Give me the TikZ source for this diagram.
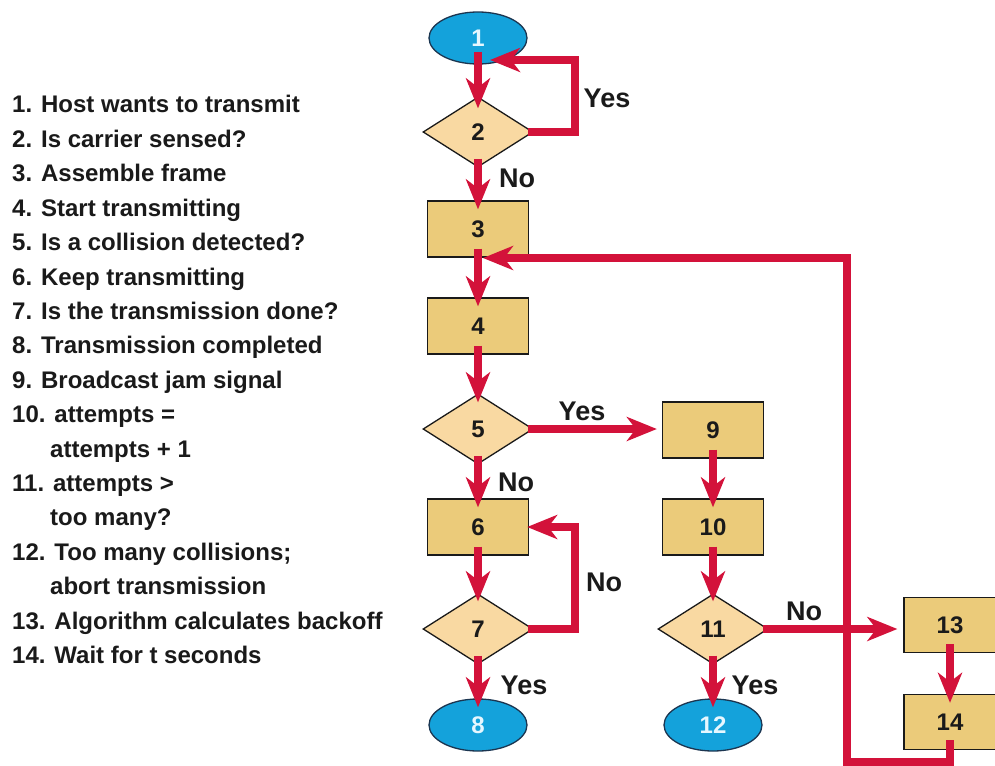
\documentclass[tikz,border=0pt]{standalone}
\usepackage{fontspec}
\setmainfont{Liberation Sans}
\usetikzlibrary{shapes.geometric,arrows.meta}
\definecolor{flowred}{HTML}{D3123A}
\definecolor{boxtan}{HTML}{EBCB7A}
\definecolor{decpeach}{HTML}{F9D9A2}
\definecolor{termblue}{HTML}{14A2DB}
\definecolor{termedge}{HTML}{1B3550}
\definecolor{termtext}{HTML}{E6F7FF}
\definecolor{inkdark}{HTML}{1A1A1A}
\begin{document}
\begin{tikzpicture}[x=1pt,y=-1pt,
  every node/.style={font=\fontsize{24}{28}\selectfont\bfseries, text=inkdark},
  procbox/.style={draw=inkdark, line width=1.3pt, fill=boxtan,
    minimum width=101pt, minimum height=56pt, inner sep=0pt},
  decision/.style={diamond, draw=inkdark, line width=1.3pt, fill=decpeach,
    minimum width=110pt, minimum height=70pt, inner sep=0pt, aspect=1.57},
  terminal/.style={ellipse, draw=termedge, line width=1.3pt, fill=termblue,
    minimum width=98pt, minimum height=52pt, inner sep=0pt, text=termtext},
  flow/.style={draw=flowred, line width=8pt,
    -{Stealth[length=30pt,width=24pt,inset=9pt]}, shorten <=-9pt},
  branch/.style={inner sep=0pt, font=\fontsize{27}{30}\selectfont\bfseries},
  itemtext/.style={anchor=base west, inner sep=0pt}
]
\useasboundingbox[fill=white] (0,0) rectangle (995,765);

% legend of the numbered steps
\foreach \xx/\txt [count=\i from 0] in {
  12/{1. Host wants to transmit},
  12/{2. Is carrier sensed?},
  12/{3. Assemble frame},
  12/{4. Start transmitting},
  12/{5. Is a collision detected?},
  12/{6. Keep transmitting},
  12/{7. Is the transmission done?},
  12/{8. Transmission completed},
  12/{9. Broadcast jam signal},
  12/{10. attempts =},
  50/{attempts + 1},
  12/{11. attempts >},
  50/{too many?},
  12/{12. Too many collisions;},
  50/{abort transmission},
  12/{13. Algorithm calculates backoff},
  12/{14. Wait for t seconds}}
  \node[itemtext] (item\i) at (\xx, 113+34.4*\i) {\txt};

% flowchart nodes
\node[terminal] (n1)  at (478,38)  {1};
\node[decision] (n2)  at (478,132) {2};
\node[procbox]  (n3)  at (478,229) {3};
\node[procbox]  (n4)  at (478,326) {4};
\node[decision] (n5)  at (478,429) {5};
\node[procbox]  (n6)  at (478,527) {6};
\node[decision] (n7)  at (478,629) {7};
\node[terminal] (n8)  at (478,725) {8};
\node[procbox]  (n9)  at (713,430) {9};
\node[procbox]  (n10) at (713,527) {10};
\node[decision] (n11) at (713,629) {11};
\node[terminal] (n12) at (713,725) {12};
\node[procbox, minimum width=92pt, minimum height=55pt] (n13) at (950,625) {13};
\node[procbox, minimum width=92pt, minimum height=55pt] (n14) at (950,722) {14};

% bends of the loops
\coordinate (yesloop) at (575,60);
\coordinate (in1)     at (490,60);
\coordinate (noloop)  at (575,527);
\coordinate (rb)      at (847,762);
\coordinate (in3)     at (483,258);

% connectors
\draw[flow, shorten <=-13pt, shorten >=-12pt] (n1.south) -- (n2.north);
\draw[flow, shorten >=-9pt] (n2.south) -- (n3.north);
\draw[flow, shorten >=-9pt] (n3.south) -- (n4.north);
\draw[flow, shorten >=-9pt] (n4.south) -- (n5.north);
\draw[flow, shorten >=-9pt] (n5.south) -- (n6.north);
\draw[flow, shorten >=-8pt] (n6.south) -- (n7.north);
\draw[flow, shorten >=-9pt] (n7.south) -- (n8.north);
\draw[flow, shorten >=-9pt] (n9.south) -- (n10.north);
\draw[flow, shorten >=-8pt] (n10.south) -- (n11.north);
\draw[flow, shorten >=-9pt] (n11.south) -- (n12.north);
\draw[flow, shorten >=-9pt] (n13.south) -- (n14.north);

\draw[flow, shorten <=-6pt] (n2.east) -| (yesloop) -- (in1);
\draw[flow, shorten <=-6pt, shorten >=-2pt] (n7.east) -| (noloop) -- (n6.east);
\draw[flow, shorten <=-6pt, shorten >=5pt] (n5.east) -- (n5.east -| n9.west);
\draw[flow, shorten <=-10pt] (n14.south) |- (rb) |- (in3);
\draw[flow, shorten <=-6pt, shorten >=6pt] (n11.east) -- (n11.east -| n13.west);

% branch labels
\node[branch] (ly2)  at (607,98)  {Yes};
\node[branch] (ln2)  at (517,178) {No};
\node[branch] (ly5)  at (582,411) {Yes};
\node[branch] (ln5)  at (516,482) {No};
\node[branch] (ln7)  at (604,582) {No};
\node[branch] (ly7)  at (524,685) {Yes};
\node[branch] (ly11) at (755,685) {Yes};
\node[branch] (ln11) at (804,611) {No};
\end{tikzpicture}
\end{document}
